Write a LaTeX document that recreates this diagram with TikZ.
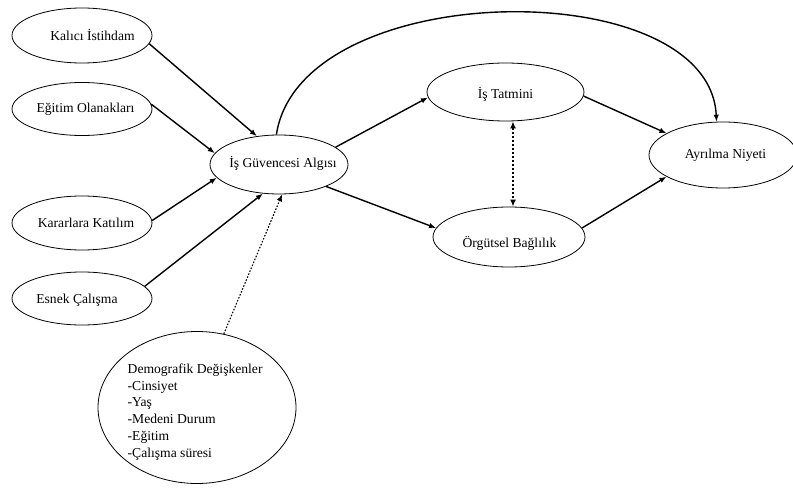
\documentclass[tikz,border=0pt]{standalone}
\usepackage{fontspec}
\setmainfont{Liberation Serif}
\usetikzlibrary{shapes.geometric,arrows.meta}
\tikzset{
  oval/.style={ellipse, draw, line width=0.8pt, inner sep=0pt},
  txt/.style={font=\fontsize{13.6}{16.7}\selectfont, inner sep=0pt},
  arr/.style={line width=1.4pt, -{Latex[length=7pt,width=5.5pt]}},
  darr/.style={line width=1.1pt, dash pattern=on 1.6pt off 1.6pt, -{Latex[length=7pt,width=5.5pt]}},
  dbl/.style={line width=2pt, dash pattern=on 2pt off 2pt, {Latex[length=7pt,width=6pt]}-{Latex[length=7pt,width=6pt]}}
}
\begin{document}
\begin{tikzpicture}[x=1pt,y=-1pt]
\useasboundingbox (0,0) rectangle (793,489);
% ellipses
\node[oval, minimum width=140, minimum height=55] (ki) at (82,35.5) {};
\node[oval, minimum width=140, minimum height=53] (eo) at (82,109) {};
\node[oval, minimum width=140, minimum height=54] (kk) at (82,223) {};
\node[oval, minimum width=140, minimum height=53] (ec) at (82,298.5) {};
\node[oval, minimum width=138, minimum height=59] (ig) at (279,164.5) {};
\node[oval, minimum width=157, minimum height=58] (it) at (505.5,92) {};
\node[oval, minimum width=152, minimum height=60] (ob) at (509,237) {};
\node[oval, minimum width=148, minimum height=66] (an) at (723,155) {};
\node[oval, minimum width=198, minimum height=152] (dm) at (197,407.5) {};
% texts
\node[txt] at (92.5,35) {Kalıcı İstihdam};
\node[txt] at (85.5,109.5) {Eğitim Olanakları};
\node[txt] at (86,223) {Kararlara Katılım};
\node[txt] at (77,300) {Esnek Çalışma};
\node[txt] at (283,163.5) {İş Güvencesi Algısı};
\node[txt] at (505.5,94) {İş Tatmini};
\node[txt] at (509.5,243) {Örgütsel Bağlılık};
\node[txt] at (725.5,155) {Ayrılma Niyeti};
\node[txt, anchor=west, align=left] at (127.5,412) {Demografik Değişkenler\\-Cinsiyet\\-Yaş\\-Medeni Durum\\-Eğitim\\-Çalışma süresi};
% connectors
\draw[arr] (ki.-7.4) -- (ig.128.2);
\draw[arr] (eo.4.9) -- (ig.170.7);
\draw[arr] (kk.2.5) -- (ig.-168.8);
\draw[arr] (ec.11.7) -- (ig.-119.1);
\draw[darr] (dm.70.6) -- (ig.-84.4);
\draw[arr] (ig.17.4) -- (it.-176.3);
\draw[arr] (ig.-25.6) -- (ob.173.2);
\draw[arr] (it.-3.6) -- (an.159.3);
\draw[arr] (ob.7.5) -- (an.-159.7);
\coordinate (dv) at (513,0);
\draw[dbl] (it.south -| dv) -- (ob.north -| dv);
\draw[arr] (ig.95) .. controls +(24,-158) and +(-7,-150) .. (an.101);
\end{tikzpicture}
\end{document}
